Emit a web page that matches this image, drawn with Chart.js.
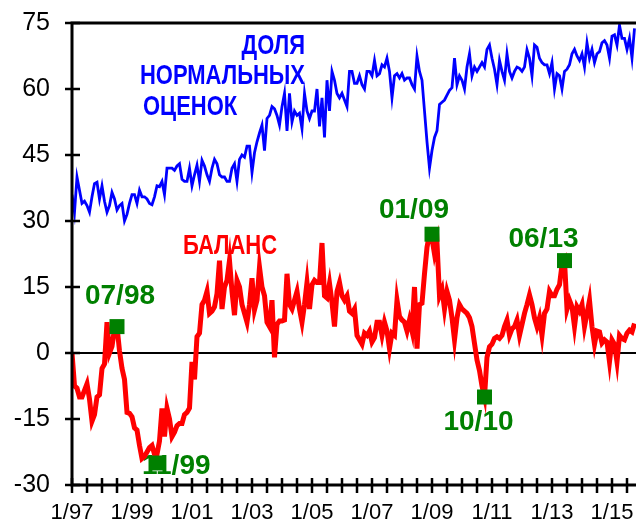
<!DOCTYPE html>
<html>
<head>
<meta charset="utf-8">
<script src="https://cdn.jsdelivr.net/npm/chart.js@4/dist/chart.umd.min.js"></script>
<style>
  html, body { margin: 0; padding: 0; background: #fff; }
  #wrap { width: 636px; height: 525px; }
</style>
</head>
<body>
<div id="wrap"><canvas id="chart" width="636" height="525"></canvas></div>
<script>
// месяцы от 1/97 (0 = январь 1997)
const xTickMonths = [0, 24, 48, 72, 96, 120, 144, 168, 192, 216];
const xTickLabels = ['1/97', '1/99', '1/01', '1/03', '1/05', '1/07', '1/09', '1/11', '1/13', '1/15'];
const yTicks = [-30, -15, 0, 15, 30, 45, 60, 75];

// доля нормальных оценок, помесячно
const normalShare = [
  36, 32, 40, 37, 34, 34.5, 33.5, 32, 35.5, 38.5,
  38.8, 35, 38, 34.5, 32, 33.5, 36.5, 35, 32.5, 33.5,
  34, 30, 31.5, 34, 36, 36, 34, 37, 35.5, 35.5,
  35, 34, 33.7, 35.5, 38, 37.8, 39, 36, 42, 42,
  42, 41.5, 42.5, 43, 39.5, 39, 39, 42, 38, 40.5,
  42.7, 39, 43.8, 42.5, 40.5, 39, 42, 44, 43, 40.5,
  40, 40, 39, 39, 42, 43, 39, 44, 45, 44.5,
  47, 47, 41, 45.5, 48, 50, 51.8, 46, 53.3, 54,
  56, 55.5, 54, 51.8, 56, 59, 50.5, 59, 52.5, 55,
  54, 54.5, 51, 59, 55, 53.3, 55, 55, 60, 51.5,
  58, 49, 62, 55, 64, 62, 59, 58, 59, 57.5,
  56, 64, 64, 61.3, 61.3, 63, 61, 60, 64, 64,
  63, 66.5, 63, 63.5, 65.5, 65, 67, 64, 58, 63,
  63.5, 62.5, 63.5, 62, 62.5, 62.5, 61, 60, 67.5, 64,
  62, 55, 48, 42, 46, 49, 50.5, 56.5, 57, 57.5,
  58.6, 59.7, 60.3, 67, 61, 63, 62, 60, 65, 68,
  63, 65, 64, 65, 66, 65, 69, 70, 67, 64.5,
  61, 66.5, 64, 62, 68, 64, 62.5, 64, 65, 64.7,
  64, 65, 68.9, 67, 63, 70, 69.5, 67, 66, 65.5,
  65.5, 63.5, 66, 60, 63.5, 63, 60, 64, 64.5, 65.5,
  68, 69, 67.5, 66.5, 68, 65, 70.5, 67, 69, 66,
  68, 68.5, 70.5, 71, 70, 67, 72, 72.3, 70, 74.5,
  71.5, 71.5, 69, 71.5, 67, 73.8
];

// баланс, помесячно
const balance = [
  0, -7.5, -8, -10, -10, -8.5, -7, -10.5, -15.5, -14,
  -10, -9.5, -3.5, -2.5, 7, 0, 1.5, 5.5, 6, 0.5,
  -3.5, -6, -13.5, -13.7, -14.5, -17, -17.5, -21, -24, -23.5,
  -22.5, -21.5, -21, -23, -23, -20, -12.6, -19, -12.6, -15,
  -19, -18, -16.5, -16, -16, -14, -13.5, -12.5, -2, -6,
  3.7, 4.5, 11, 12, 14, 9, 9.5, 10.5, 13.5, 21,
  10, 15, 16.5, 21, 14, 8.6, 16.5, 15, 11, 9,
  7, 11, 17, 9.8, 12, 19.5, 15, 13, 7, 6,
  12, -1, 6.5, 7.3, 7.3, 7.5, 18, 11, 10, 12,
  14, 10, 7, 11, 16, 10, 15.5, 16.5, 16, 16,
  25, 13, 12.5, 15.8, 11.5, 6, 14, 16, 13, 12,
  13, 9.5, 9, 10, 4, 3, 2, 4.5, 4, 5,
  2.5, 3.5, 7, 7, 4, 7, 5, 1, 4.5, 4,
  12, 8.3, 7.5, 7, 5, 7.5, 5, 15, 1, 11,
  11.3, 18, 24, 27, 26, 22.5, 25, 13, 14.5, 10,
  14, 12, 8, 3, 8, 11, 10, 9.5, 9, 8,
  6, 2.2, -1.6, -4, -7.5, -10, -1, 1.4, 2, 3.3,
  3.7, 3.3, 4, 6, 7.5, 4, 5.5, 6, 7.5, 4,
  6.5, 9, 11, 13.2, 11, 8, 6, 8, 4, 9,
  10, 14, 13, 13, 14.5, 15.5, 20, 21, 10, 12,
  10.5, 6, 10.5, 9.5, 11, 6, 9, 12, 6, 2,
  5, 4.8, 2.3, 3, 2.5, -2, 3, 2, -2, 4,
  3.3, 3, 4.5, 5.2, 4.8, 6.7
];

// отмеченные точки
const markerLabels = ['07/98', '11/99', '01/09', '10/10', '06/13'];
const markerMonths = [18, 34, 144, 165, 197];
const markerValues = [6, -25, 27, -10, 21];

const FONT = '"Liberation Sans", Arial, sans-serif';

// смещения подписей к маркерам: [dx, dy, выравнивание]
const markerLabelPlace = [
  [3, -30, 'center'],
  [-15, 3, 'left'],
  [-18, -24, 'center'],
  [-6, 25, 'center'],
  [-21, -21, 'center']
];

const decor = {
  id: 'decor',
  beforeDatasetsDraw(chart) {
    const { ctx, chartArea: a, scales: { x, y } } = chart;
    ctx.save();
    // нулевая линия
    ctx.strokeStyle = '#000';
    ctx.lineWidth = 2;
    const y0 = y.getPixelForValue(0);
    ctx.beginPath(); ctx.moveTo(a.left, y0); ctx.lineTo(a.right, y0); ctx.stroke();

    // подписи к маркерам (под квадратами)
    ctx.fillStyle = '#008000';
    ctx.font = 'bold 28px ' + FONT;
    ctx.textBaseline = 'middle';
    markerLabels.forEach((t, i) => {
      const px = x.getPixelForValue(markerMonths[i]);
      const py = y.getPixelForValue(markerValues[i]);
      const p = markerLabelPlace[i];
      ctx.textAlign = p[2];
      ctx.fillText(t, px + p[0], py + p[1]);
    });
    ctx.restore();
  },
  afterDraw(chart) {
    const { ctx, chartArea: a, scales: { x, y } } = chart;
    ctx.save();
    ctx.strokeStyle = '#000';
    ctx.lineWidth = 3;
    ctx.beginPath();
    ctx.moveTo(a.right, a.top); ctx.lineTo(a.left, a.top);
    ctx.lineTo(a.left, a.bottom); ctx.lineTo(a.right, a.bottom);
    ctx.stroke();

    // засечки
    ctx.lineWidth = 2.5;
    ctx.beginPath();
    yTicks.forEach(v => {
      const py = y.getPixelForValue(v);
      ctx.moveTo(a.left - 7, py); ctx.lineTo(a.left + 8, py);
    });
    for (let m = 0; m <= x.max; m += 6) {
      const px = x.getPixelForValue(m);
      ctx.moveTo(px, a.bottom - 7); ctx.lineTo(px, a.bottom + 8);
    }
    ctx.stroke();

    // названия рядов (узкий шрифт)
    ctx.font = 'bold 28px ' + FONT;
    ctx.textBaseline = 'middle';
    const sx = 165 / ctx.measureText('НОРМАЛЬНЫХ').width;
    const narrow = (text, px, py, align, color) => {
      ctx.save();
      ctx.fillStyle = color;
      ctx.textAlign = align;
      ctx.translate(px, py);
      ctx.scale(sx, 1);
      ctx.fillText(text, 0, 0);
      ctx.restore();
    };
    narrow('ДОЛЯ', 305, 46, 'right', '#0000ff');
    narrow('НОРМАЛЬНЫХ', 140, 76, 'left', '#0000ff');
    narrow('ОЦЕНОК', 143, 107, 'left', '#0000ff');
    narrow('БАЛАНС', 183, 246, 'left', '#ff0000');
    ctx.restore();
  }
};

new Chart(document.getElementById('chart'), {
  type: 'line',
  data: {
    datasets: [
      {
        label: 'Доля нормальных оценок',
        data: normalShare.map((v, i) => ({ x: i, y: v })),
        borderColor: '#0000ff',
        borderWidth: 2.8,
        pointRadius: 0,
        tension: 0,
        order: 3
      },
      {
        label: 'Баланс',
        data: balance.map((v, i) => ({ x: i, y: v })),
        borderColor: '#ff0000',
        borderWidth: 5,
        pointRadius: 0,
        tension: 0,
        order: 2
      },
      {
        label: 'Точки',
        data: markerMonths.map((m, i) => ({ x: m, y: markerValues[i] })),
        showLine: false,
        pointStyle: 'rect',
        pointRadius: 10.6,
        pointBorderWidth: 0,
        pointBackgroundColor: '#008000',
        pointBorderColor: '#008000',
        order: 1
      }
    ]
  },
  options: {
    responsive: false,
    animation: false,
    events: [],
    layout: { autoPadding: false, padding: { top: 23, left: 0, right: 0, bottom: 0 } },
    plugins: { legend: { display: false }, tooltip: { enabled: false } },
    scales: {
      x: {
        type: 'linear',
        min: 0,
        max: 225.6,
        grid: { display: false, drawTicks: false },
        border: { display: false },
        afterBuildTicks: s => { s.ticks = xTickMonths.map(v => ({ value: v })); },
        afterFit: s => { s.height = 40; s.paddingLeft = 0; s.paddingRight = 0; },
        ticks: {
          autoSkip: false,
          maxRotation: 0,
          padding: 15,
          color: '#000',
          font: { family: FONT, size: 22 },
          callback: v => xTickLabels[xTickMonths.indexOf(v)] || ''
        }
      },
      y: {
        min: -30,
        max: 75,
        grid: { display: false, drawTicks: false },
        border: { display: false },
        afterBuildTicks: s => { s.ticks = yTicks.map(v => ({ value: v })); },
        afterFit: s => { s.width = 72; s.paddingTop = 0; s.paddingBottom = 0; },
        ticks: {
          padding: 22,
          color: '#000',
          font: { family: FONT, size: 25 }
        }
      }
    }
  },
  plugins: [decor]
});
</script>
</body>
</html>
